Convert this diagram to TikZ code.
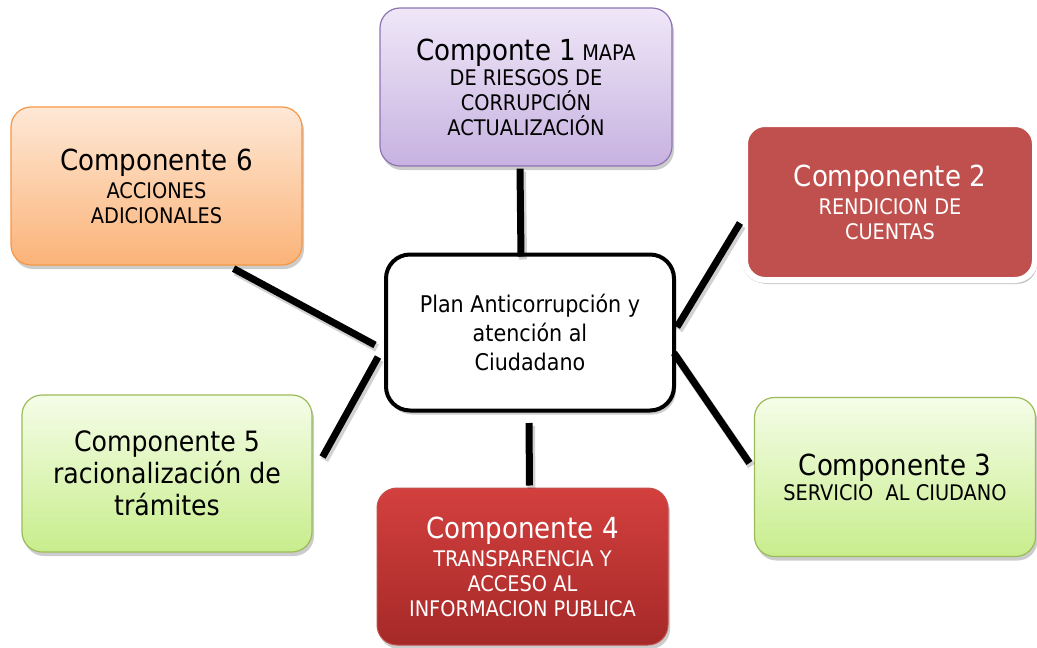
\documentclass[tikz,border=0pt]{standalone}
\usepackage{fontspec}
\setmainfont{DejaVu Sans Condensed}
\usetikzlibrary{shadows,calc}
\definecolor{purpTop}{HTML}{EFE7F8}
\definecolor{purpBot}{HTML}{C7B2E0}
\definecolor{purpLine}{HTML}{8C74B3}
\definecolor{orTop}{HTML}{FEE8D6}
\definecolor{orBot}{HTML}{FBB378}
\definecolor{orLine}{HTML}{F79646}
\definecolor{grTop}{HTML}{F5FDE8}
\definecolor{grBot}{HTML}{C8ED8C}
\definecolor{grLine}{HTML}{9BBB59}
\definecolor{redA}{HTML}{C0504D}
\definecolor{redTop}{HTML}{D3403E}
\definecolor{redBot}{HTML}{A52928}
\begin{document}
\begin{tikzpicture}[x=1pt,y=-1pt,
  comp/.style={rounded corners=20pt, inner sep=0pt, align=center,
    font=\fontsize{21.5}{25}\selectfont,
    drop shadow={opacity=0.4, shadow xshift=2pt, shadow yshift=-4pt}},
  conn/.style={line width=7pt, black},
  connsh/.style={line width=8pt, black, opacity=0.18}
]
\useasboundingbox (0,0) rectangle (1037,648);
\newcommand{\bigtxt}[1]{{\fontsize{29}{29}\selectfont #1}}

% boxes
\node[comp, draw=purpLine, line width=1.2pt, top color=purpTop, bottom color=purpBot,
  minimum width=292pt, minimum height=158pt] (b1) at (526,87)
  {\bigtxt{Componte 1} MAPA\\ DE RIESGOS DE\\ CORRUPCIÓN\\ ACTUALIZACIÓN};

\node[comp, draw=white, line width=6pt, fill=redA, text=white,
  minimum width=290pt, minimum height=156pt,
  drop shadow={opacity=0.25, shadow xshift=0pt, shadow yshift=-2pt, shadow scale=1.015}] (b2) at (890,202)
  {\bigtxt{Componente 2}\\[3pt] RENDICION DE\\ CUENTAS};

\node[comp, draw=grLine, line width=1.2pt, top color=grTop, bottom color=grBot,
  minimum width=281pt, minimum height=159pt] (b3) at (895,477)
  {\bigtxt{Componente 3}\\ SERVICIO\ \ AL CIUDANO};

\node[comp, draw=redA, line width=1pt, top color=redTop, bottom color=redBot, text=white,
  minimum width=291pt, minimum height=157pt] (b4) at (522.5,566.5)
  {\bigtxt{Componente 4}\\[3pt] TRANSPARENCIA Y\\ ACCESO AL\\ INFORMACION PUBLICA};

\node[comp, draw=grLine, line width=1.2pt, top color=grTop, bottom color=grBot,
  minimum width=290pt, minimum height=157pt, font=\fontsize{28}{32}\selectfont] (b5) at (167,473.5)
  {Componente 5\\ racionalización de\\ trámites};

\node[comp, draw=orLine, line width=1.2pt, top color=orTop, bottom color=orBot,
  minimum width=291pt, minimum height=158pt] (b6) at (156.5,186)
  {\bigtxt{Componente 6}\\[3pt] ACCIONES\\ ADICIONALES};

\node[comp, draw=black, line width=4pt, fill=white, rounded corners=24pt,
  minimum width=288pt, minimum height=156pt, font=\fontsize{23}{29}\selectfont] (c) at (530,332.5)
  {Plan Anticorrupción y\\ atención al\\ Ciudadano};

% connectors
\coordinate (p1a) at ($(b1.south)+(-6,2)$);
\coordinate (p1b) at ($(c.north)+(-9,4)$);
\coordinate (p6a) at ($(b6.south east)+(-69,3)$);
\coordinate (p6b) at ($(c.west)+(-9,12.5)$);
\coordinate (p5a) at ($(b5.east)+(10,-16.5)$);
\coordinate (p5b) at ($(c.west)+(-6,24.5)$);
\coordinate (p2a) at ($(c.east)+(1,-5.5)$);
\coordinate (p2b) at ($(b2.west)+(-2,21)$);
\coordinate (p3a) at ($(c.east)+(-2,20.5)$);
\coordinate (p3b) at ($(b3.west)+(-4.5,-14)$);
\coordinate (p4a) at ($(c.south)+(-1,10.5)$);
\coordinate (p4b) at ($(b4.north)+(7,-2)$);

\foreach \a/\b in {p1a/p1b,p6a/p6b,p5a/p5b,p2a/p2b,p3a/p3b,p4a/p4b}{
  \draw[connsh] ([shift={(2,3)}]\a) -- ([shift={(2,3)}]\b);
  \draw[conn] (\a) -- (\b);
}
\end{tikzpicture}
\end{document}
